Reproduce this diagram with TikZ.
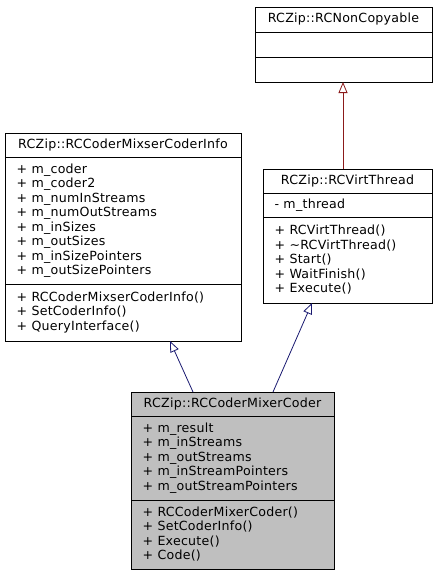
\documentclass[tikz,border=0pt]{standalone}
\usepackage{fontspec}
\setmainfont{DejaVu Sans}[LetterSpace=2.0]
\usetikzlibrary{arrows.meta}
\definecolor{inhblue}{HTML}{191970}
\definecolor{inhred}{HTML}{8B1A1A}
\definecolor{focusgray}{HTML}{BFBFBF}
\tikzset{
  classbox/.style={draw=black, line width=0.9pt, rectangle, inner sep=0pt, anchor=north west},
  sep/.style={draw=black, line width=0.9pt},
  title/.style={inner sep=0pt, font=\fontsize{12.6}{14.5}\selectfont},
  members/.style={inner sep=0pt, anchor=west, align=left, font=\fontsize{12.6}{14.5}\selectfont},
  inherit/.style={line width=0.8pt, -{Triangle[open, length=11pt, width=9pt]}},
}
\begin{document}
\begin{tikzpicture}[x=1pt, y=-1pt]
\useasboundingbox (0,0) rectangle (436,576);

% RCNonCopyable
\node[classbox, minimum width=177pt, minimum height=75pt] (nc) at (255,7) {};
\draw[sep] (nc.west |- 0,32) -- (nc.east |- 0,32);
\draw[sep] (nc.west |- 0,57) -- (nc.east |- 0,57);
\node[title] (ncT) at (343.5,19.5) {RCZip::RCNonCopyable};

% RCVirtThread
\node[classbox, minimum width=169pt, minimum height=134pt] (vt) at (263,169) {};
\draw[sep] (vt.west |- 0,193) -- (vt.east |- 0,193);
\draw[sep] (vt.west |- 0,217) -- (vt.east |- 0,217);
\node[title] (vtT) at (347.5,181) {RCZip::RCVirtThread};
\node[members] (vtA) at (274.5,205) {- m\_thread};
\node[members] (vtM) at (274.5,260) {+ RCVirtThread()\\+ \textasciitilde RCVirtThread()\\+ Start()\\+ WaitFinish()\\+ Execute()};

% RCCoderMixserCoderInfo
\node[classbox, minimum width=236pt, minimum height=208pt] (ci) at (5,133) {};
\draw[sep] (ci.west |- 0,157) -- (ci.east |- 0,157);
\draw[sep] (ci.west |- 0,284) -- (ci.east |- 0,284);
\node[title] (ciT) at (123,145) {RCZip::RCCoderMixserCoderInfo};
\node[members] (ciA) at (16.5,220.5) {+ m\_coder\\+ m\_coder2\\+ m\_numInStreams\\+ m\_numOutStreams\\+ m\_inSizes\\+ m\_outSizes\\+ m\_inSizePointers\\+ m\_outSizePointers};
\node[members] (ciM) at (16.5,312.5) {+ RCCoderMixserCoderInfo()\\+ SetCoderInfo()\\+ QueryInterface()};

% RCCoderMixerCoder
\node[classbox, fill=focusgray, minimum width=203pt, minimum height=177pt] (mc) at (131,392) {};
\draw[sep] (mc.west |- 0,416) -- (mc.east |- 0,416);
\draw[sep] (mc.west |- 0,500) -- (mc.east |- 0,500);
\node[title] (mcT) at (232.5,404) {RCZip::RCCoderMixerCoder};
\node[members] (mcA) at (142.5,458) {+ m\_result\\+ m\_inStreams\\+ m\_outStreams\\+ m\_inStreamPointers\\+ m\_outStreamPointers};
\node[members] (mcM) at (142.5,534) {+ RCCoderMixerCoder()\\+ SetCoderInfo()\\+ Execute()\\+ Code()};

% inheritance
\coordinate (mcL) at (193,392);
\coordinate (mcR) at (273,392);
\coordinate (ciB) at (170,341);
\coordinate (vtB) at (312,303);
\coordinate (vtTop) at (343,169);
\coordinate (ncB) at (343,82);
\draw[inherit, inhblue] (mcL) -- (ciB);
\draw[inherit, inhblue] (mcR) -- (vtB);
\draw[inherit, inhred] (vtTop) -- (ncB);
\end{tikzpicture}
\end{document}
